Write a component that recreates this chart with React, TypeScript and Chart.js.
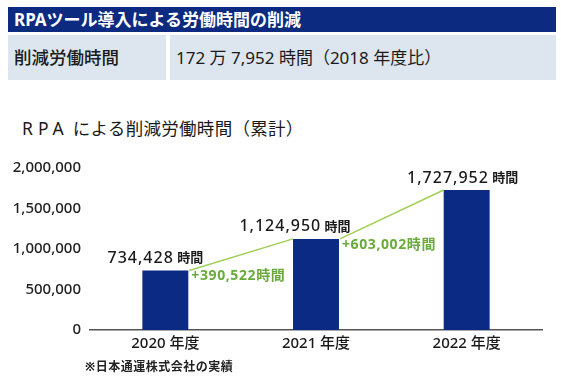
import React, { useEffect, useRef } from "react";
import { Chart, registerables } from "chart.js";
Chart.register(...registerables);

const headerTitle = "RPAツール導入による労働時間の削減";
const rowLabel = "削減労働時間";
const rowValue = "172 万 7,952 時間（2018 年度比）";
const chartTitleLatin = "RPA";
const chartTitleRest = "による削減労働時間（累計）";
const footnote = "※日本通運株式会社の実績";

const categories = ["2020 年度", "2021 年度", "2022 年度"];
const cumulativeHours = [734428, 1124950, 1727952];
const increments = [390522, 603002];
const yTicks = [0, 500000, 1000000, 1500000, 2000000];
const unit = "時間";

const NAVY = "#0b2a84";
const GREEN_LINE = "#9fcf55";
const GREEN_TEXT = "#6aab3c";
const FONT = '"Noto Sans", "Noto Sans CJK JP", sans-serif';

const fmt = (v: number) => v.toLocaleString("en-US");

// horizontal nudges of the value labels relative to their bar centre (style only)
const LABEL_NUDGE = [-10, -21, -4];

const labelsPlugin = {
  id: "valueLabels",
  afterDatasetsDraw(chart: any) {
    const ctx = chart.ctx as CanvasRenderingContext2D;
    const meta = chart.getDatasetMeta(0);
    const els = meta.data as any[];
    ctx.save();
    for (let i = 0; i < increments.length; i++) {
      const a = els[i];
      const b = els[i + 1];
      const ax = a.x + a.width / 2;
      const bx = b.x - b.width / 2;
      ctx.strokeStyle = GREEN_LINE;
      ctx.lineWidth = 1.5;
      ctx.beginPath();
      ctx.moveTo(ax + 1, a.y);
      ctx.lineTo(bx, b.y);
      ctx.stroke();
      ctx.fillStyle = GREEN_TEXT;
      ctx.font = `bold 14px ${FONT}`;
      (ctx as any).letterSpacing = "0.6px";
      ctx.textAlign = "left";
      ctx.textBaseline = "middle";
      ctx.fillText("+" + fmt(increments[i]) + unit, ax + 3, a.y + 6);
    }
    for (let i = 0; i < els.length; i++) {
      const el = els[i];
      const numText = fmt(cumulativeHours[i]);
      const unitText = " " + unit;
      ctx.fillStyle = "#1a1a1a";
      ctx.textBaseline = "middle";
      ctx.textAlign = "left";
      ctx.font = `500 16px ${FONT}`;
      (ctx as any).letterSpacing = "1px";
      const w1 = ctx.measureText(numText).width;
      ctx.font = `bold 13px ${FONT}`;
      (ctx as any).letterSpacing = "0px";
      const w2 = ctx.measureText(unitText).width;
      const start = el.x + LABEL_NUDGE[i] - (w1 + w2) / 2;
      const cy = el.y - 12;
      ctx.font = `500 16px ${FONT}`;
      (ctx as any).letterSpacing = "1px";
      ctx.fillText(numText, start, cy);
      ctx.font = `bold 13px ${FONT}`;
      (ctx as any).letterSpacing = "0px";
      ctx.fillText(unitText, start + w1, cy);
    }
    ctx.restore();
  },
};

function BarChart() {
  const ref = useRef<HTMLCanvasElement>(null);
  useEffect(() => {
    if (!ref.current) return;
    const chart = new Chart(ref.current, {
      type: "bar",
      data: {
        labels: categories,
        datasets: [
          {
            data: cumulativeHours,
            backgroundColor: NAVY,
            barPercentage: 0.305,
            categoryPercentage: 1,
          },
        ],
      },
      options: {
        animation: false,
        responsive: false,
        devicePixelRatio: 1,
        layout: { padding: { top: 16, right: 19, left: 0, bottom: 0 } },
        plugins: { legend: { display: false }, tooltip: { enabled: false } },
        scales: {
          x: {
            grid: { display: false, drawTicks: false },
            border: { display: true, color: "#555", width: 1.5 },
            ticks: {
              color: "#1a1a1a",
              padding: 5,
              font: { family: FONT, size: 15, weight: "500" as any },
            },
            afterFit: (s: any) => {
              s.height = 35;
            },
          },
          y: {
            min: 0,
            max: 2000000,
            grid: { display: false, drawTicks: false },
            border: { display: false },
            afterBuildTicks: (s: any) => {
              s.ticks = yTicks.map((v) => ({ value: v }));
            },
            ticks: {
              color: "#222",
              padding: 9,
              font: { family: FONT, size: 15, weight: "500" as any },
              callback: (v: any) => fmt(Number(v)),
            },
            afterFit: (s: any) => {
              s.width = 90;
            },
          },
        },
      },
      plugins: [labelsPlugin],
    });
    return () => chart.destroy();
  }, []);
  return <canvas ref={ref} width={561} height={215} style={{ display: "block" }} />;
}

export default function App() {
  return (
    <div
      style={{
        position: "absolute",
        left: 0,
        top: 0,
        width: 561,
        height: 382,
        background: "#fff",
        fontFamily: FONT,
        color: "#1a1a1a",
        overflow: "hidden",
      }}
    >
      <div
        style={{
          position: "absolute",
          left: 8,
          top: 7,
          width: 548,
          height: 25,
          background: "#0b2a80",
          color: "#fff",
          fontWeight: 700,
          fontSize: 17,
          lineHeight: "25px",
          paddingLeft: 6,
          boxSizing: "border-box",
          whiteSpace: "nowrap",
        }}
      >
        {headerTitle}
      </div>
      <div
        style={{
          position: "absolute",
          left: 8,
          top: 35,
          width: 158,
          height: 45,
          background: "#dde6ee",
          fontSize: 17.5,
          fontWeight: 500,
          lineHeight: "45px",
          paddingLeft: 6,
          boxSizing: "border-box",
          whiteSpace: "nowrap",
        }}
      >
        {rowLabel}
      </div>
      <div
        style={{
          position: "absolute",
          left: 170,
          top: 35,
          width: 386,
          height: 45,
          background: "#dde6ee",
          fontSize: 17,
          lineHeight: "45px",
          paddingLeft: 6,
          boxSizing: "border-box",
          whiteSpace: "nowrap",
        }}
      >
        {rowValue}
      </div>
      <div
        style={{
          position: "absolute",
          left: 22,
          top: 116,
          fontSize: 17.5,
          lineHeight: "24px",
          letterSpacing: "0.3px",
          whiteSpace: "nowrap",
        }}
      >
        <span style={{ letterSpacing: "5px", marginRight: 4 }}>{chartTitleLatin}</span>
        {chartTitleRest}
      </div>
      <div style={{ position: "absolute", left: 0, top: 150 }}>
        <BarChart />
      </div>
      <div
        style={{
          position: "absolute",
          left: 85,
          top: 359,
          fontSize: 12,
          fontWeight: 700,
          lineHeight: "16px",
          letterSpacing: "0.5px",
          whiteSpace: "nowrap",
          color: "#222",
        }}
      >
        {footnote}
      </div>
    </div>
  );
}
